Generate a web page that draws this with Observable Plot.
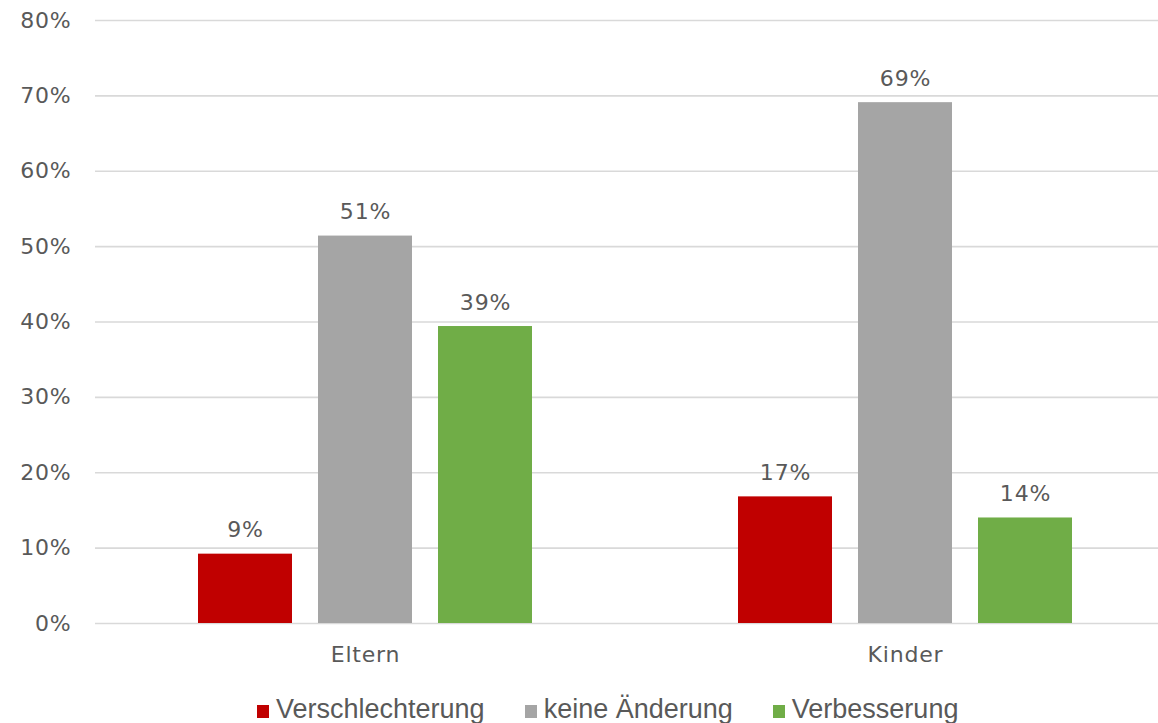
<!DOCTYPE html>
<html><head><meta charset="utf-8">
<script src="https://cdn.jsdelivr.net/npm/d3@7"></script>
<script src="https://cdn.jsdelivr.net/npm/@observablehq/plot@0.6"></script>
<style>
html,body{margin:0;padding:0;background:#fff;}
#wrap{width:1158px;height:723px;overflow:hidden;position:relative;}
#chart svg{max-width:none !important;height:680px !important;}
#chart svg text{letter-spacing:0.8px;}
#legend{position:absolute;left:257px;top:694px;display:flex;
 font-family:"Liberation Sans Narrow","Liberation Sans",sans-serif;font-size:27px;color:#595959;white-space:nowrap;}
.item{display:flex;align-items:center;margin-right:40px;}
.sw{width:12px;height:13px;margin-right:7px;margin-top:3px;}
</style></head>
<body><div id="wrap"><div id="chart"></div><div id="legend"></div></div>
<script>
const groups = ["Eltern", "Kinder"];
const series = ["Verschlechterung", "keine Änderung", "Verbesserung"];
const colors = ["#c00000", "#a5a5a5", "#70ad47"];
const valuesEltern = [0.092, 0.514, 0.394];
const valuesKinder = [0.168, 0.691, 0.14];
const yTicks = [0, 0.1, 0.2, 0.3, 0.4, 0.5, 0.6, 0.7, 0.8];

const data = [];
series.forEach((s, i) => {
  data.push({group: groups[0], series: s, value: valuesEltern[i]});
  data.push({group: groups[1], series: s, value: valuesKinder[i]});
});

const font = "DejaVu Sans, sans-serif";
const chart = Plot.plot({
  width: 1175, height: 680,
  marginLeft: 95, marginRight: 0, marginTop: 20, marginBottom: 57,
  style: {fontFamily: font, fontSize: "22px", color: "#595959", background: "#fff"},
  fx: {domain: groups, padding: 0, label: null, axis: null},
  x: {domain: series, paddingInner: 0.217, paddingOuter: 0.858, axis: null},
  y: {domain: [0, 0.8], label: null, axis: null},
  color: {domain: series, range: colors},
  marks: [
    Plot.ruleY(yTicks, {stroke: "#d9d9d9", strokeWidth: 1.6}),
    Plot.barY(data, {fx: "group", x: "series", y: "value", fill: "series"}),
    Plot.text(data, {fx: "group", x: "series", y: "value", text: d => Math.round(d.value * 100) + "%",
      dy: -24, fill: "#595959", fontSize: 22}),
    Plot.axisY(yTicks, {anchor: "left", tickSize: 0, tickPadding: 24, tickFormat: d => Math.round(d * 100) + "%", label: null, fontSize: 22}),
    Plot.axisFx({anchor: "bottom", tickSize: 0, tickPadding: 23, label: null, fontSize: 22})
  ]
});
document.getElementById("chart").appendChild(chart);

const lg = document.getElementById("legend");
series.forEach((s, i) => {
  const it = document.createElement("div"); it.className = "item";
  const sw = document.createElement("div"); sw.className = "sw"; sw.style.background = colors[i];
  const t = document.createElement("span"); t.textContent = s;
  it.appendChild(sw); it.appendChild(t); lg.appendChild(it);
});
</script></body></html>
